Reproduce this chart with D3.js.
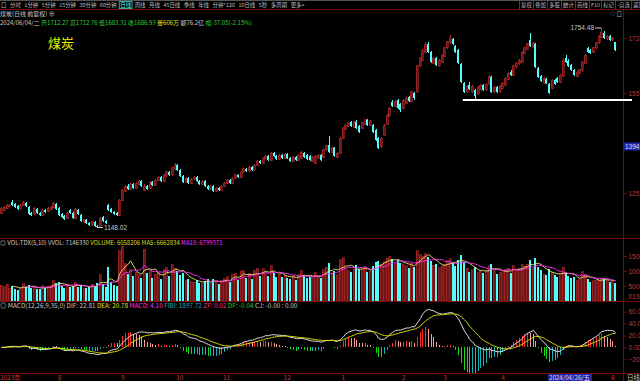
<!DOCTYPE html>
<html>
<head>
<meta charset="utf-8">
<script src="https://cdn.jsdelivr.net/npm/d3@7"></script>
<style>
  html, body { margin: 0; padding: 0; background: #000; overflow: hidden; }
  svg { display: block; font-family: "Liberation Sans", "Noto Sans CJK SC", sans-serif; }
</style>
</head>
<body>
<div id="chart"></div>
<script>
// daily bars, 2023-07-03 .. 2024-06-04 (one row per month)
const openP = [
  1192,1201,1207,1213,1225,1219,1213,1207,1216,1222,1210,1192,1189,1204,1192,1186,1201,1198,1204,1210,1219,
  1207,1189,1183,1177,1201,1192,1177,1201,1186,1165,1171,1162,1156,1165,1153,1150,1180,1168,1216,1204,1195,1192,1186,
  1231,1259,1274,1265,1280,1268,1280,1289,1262,1274,1268,1286,1277,1292,1301,1289,1305,1317,1308,1326,
  1338,1323,1304,1286,1298,1283,1295,1301,1289,1280,1289,1274,1265,1274,1259,1268,1262,
  1274,1283,1292,1283,1298,1308,1301,1317,1326,1320,1332,1323,1338,1350,1344,1359,1365,1353,1374,1365,1356,1368,
  1359,1371,1359,1350,1362,1353,1359,1374,1368,1365,1350,1344,1359,1368,1362,1384,1399,1377,1390,1362,1374,
  1420,1447,1456,1469,1453,1469,1456,1450,1462,1475,1459,1459,1444,1420,1393,1429,1462,1487,1529,1517,1535,1523,
  1511,1526,1544,1532,1557,1560,1639,1657,1681,1706,1681,1648,1663,1639,1651,
  1669,1694,1709,1721,1700,1687,1645,1587,1560,1581,1560,1566,1554,1569,1581,1566,1584,1605,1560,1575,1560,
  1572,1581,1599,1620,1611,1636,1645,1651,1678,1690,1718,1697,1706,1633,1608,1587,1599,1584,1572,1596,
  1602,1590,1608,1663,1654,1642,1627,1608,1617,1624,1648,1694,1687,1681,1694,1709,1727,1739,1721,1730,
  1718,1712.27
];
const highP = [
  1210,1214,1220,1221,1232,1222,1216,1219,1229,1226,1213,1195,1210,1208,1196,1204,1205,1210,1213,1226,1223,
  1210,1192,1186,1195,1205,1195,1207,1204,1189,1175,1174,1165,1168,1168,1156,1180,1184,1171,1220,1207,1198,1195,1234,
  1266,1278,1279,1284,1284,1287,1293,1292,1280,1277,1290,1290,1296,1305,1304,1311,1320,1321,1332,1343,
  1342,1326,1307,1301,1301,1299,1305,1304,1292,1292,1292,1277,1278,1277,1272,1271,1277,
  1287,1296,1295,1302,1311,1312,1320,1330,1330,1336,1336,1341,1354,1354,1363,1369,1368,1378,1379,1368,1372,1371,
  1375,1374,1362,1365,1365,1371,1380,1378,1371,1368,1365,1368,1371,1371,1387,1400,1425,1393,1393,1378,1423,
  1454,1463,1470,1472,1472,1475,1459,1469,1478,1478,1475,1462,1447,1423,1423,1462,1493,1514,1535,1535,1538,1526,
  1538,1545,1548,1563,1560,1642,1666,1690,1712,1712,1684,1666,1666,1660,1675,
  1697,1715,1733,1725,1703,1690,1648,1590,1582,1590,1581,1569,1578,1584,1584,1587,1612,1608,1578,1578,1581,
  1590,1605,1620,1626,1642,1651,1660,1684,1697,1709,1739,1712,1709,1636,1611,1605,1602,1587,1599,1599,
  1605,1614,1660,1672,1660,1645,1630,1623,1630,1654,1675,1697,1690,1697,1712,1733,1754.48,1745,1733,1733,
  1728,1712.76
];
const lowP = [
  1188,1198,1204,1210,1212,1206,1200,1204,1213,1210,1185,1182,1186,1189,1182,1183,1192,1195,1201,1207,1201,
  1183,1176,1170,1174,1189,1173,1174,1186,1165,1161,1158,1152,1153,1150,1148.02,1149,1165,1159,1198,1192,1186,1182,1184,
  1228,1255,1262,1262,1265,1265,1277,1271,1258,1262,1265,1274,1274,1289,1286,1286,1302,1304,1305,1322,
  1320,1301,1282,1283,1280,1280,1292,1286,1277,1277,1271,1261,1262,1255,1256,1258,1259,
  1271,1280,1280,1280,1295,1298,1298,1314,1317,1317,1320,1320,1335,1341,1341,1356,1350,1350,1362,1353,1353,1356,
  1356,1356,1347,1347,1350,1350,1356,1359,1353,1350,1347,1341,1356,1350,1359,1381,1374,1374,1362,1359,1371,
  1417,1444,1453,1453,1450,1447,1435,1447,1459,1456,1456,1435,1411,1386,1389,1426,1459,1484,1514,1514,1508,1500,
  1508,1523,1529,1529,1535,1557,1636,1654,1678,1678,1648,1645,1639,1636,1648,
  1666,1690,1706,1703,1678,1645,1587,1556,1557,1566,1557,1535,1551,1566,1563,1563,1581,1557,1557,1557,1557,
  1569,1578,1596,1608,1608,1633,1642,1648,1675,1687,1697,1694,1633,1602,1590,1584,1584,1553,1569,1581,
  1587,1587,1605,1648,1636,1624,1608,1605,1614,1620,1645,1678,1675,1678,1690,1706,1724,1721,1718,1715,
  1714,1683.31
];
const closeP = [
  1207,1210,1216,1216,1216,1210,1204,1216,1225,1213,1189,1186,1207,1192,1186,1201,1195,1207,1210,1222,1204,
  1186,1180,1174,1192,1192,1177,1204,1189,1168,1171,1162,1156,1165,1153,1150,1177,1168,1162,1201,1195,1189,1186,1231,
  1262,1274,1265,1280,1268,1283,1289,1274,1274,1265,1286,1277,1292,1301,1289,1308,1317,1308,1329,1338,
  1323,1304,1286,1298,1283,1295,1301,1289,1280,1289,1274,1265,1274,1259,1268,1262,1274,
  1283,1292,1283,1298,1308,1301,1317,1326,1320,1332,1323,1338,1350,1344,1359,1365,1353,1374,1365,1356,1368,1359,
  1371,1359,1350,1362,1353,1368,1377,1362,1356,1353,1362,1365,1368,1353,1384,1396,1377,1390,1365,1374,1420,
  1450,1459,1466,1456,1469,1450,1438,1466,1475,1459,1472,1438,1414,1390,1420,1459,1490,1511,1517,1532,1511,1505,
  1535,1541,1532,1560,1541,1639,1663,1687,1703,1681,1651,1663,1642,1657,1672,
  1694,1712,1724,1706,1681,1648,1590,1560,1578,1569,1578,1548,1575,1581,1566,1584,1608,1560,1575,1560,1578,
  1587,1602,1617,1611,1639,1648,1657,1681,1694,1706,1700,1709,1636,1605,1593,1602,1587,1557,1596,1584,
  1590,1611,1657,1651,1639,1627,1611,1620,1627,1651,1672,1681,1678,1694,1709,1730,1742,1724,1730,1718,
  1723.98,1686.93
];
// volume in thousands (axis unit X1000)
const volume = [
  5200,4800,5600,4300,4900,4100,3800,4500,5800,4700,5300,4200,4600,4000,3900,5100,4400,4800,5300,6800,5900,
  6200,5100,4300,5400,4600,4900,6300,4800,5200,4100,4500,4700,5600,5000,6100,8800,5700,4600,11200,6400,5300,5000,16800,
  18200,12500,9100,10400,8200,9600,8800,7600,17300,9400,10100,7800,8900,9500,7200,10600,11300,8400,12100,10800,
  9900,8700,9400,6800,7300,6500,6200,7100,6000,5800,6600,7200,5900,7500,6300,5600,6900,
  7400,8100,6500,8800,9200,7000,9900,10300,7700,9100,7300,10200,11000,8200,10800,9600,8500,11800,9300,8100,9000,7900,
  8600,7800,7300,8400,7100,8900,10100,8300,7600,7900,8000,9500,8200,7800,10400,11200,12600,9100,10000,8700,13800,
  14500,11300,10200,9800,10600,11900,10700,10400,11100,9600,9900,11800,12900,13500,12200,13100,14300,14800,13900,12400,13600,12800,
  12300,11700,10900,12600,11200,16800,15400,14900,15700,14600,13300,11900,12500,11100,11600,
  12200,13400,14100,12900,11800,13700,15200,13000,10900,9800,10400,11300,9600,9900,9200,10100,11800,12400,10300,9100,9500,
  9800,10600,10900,9300,11700,10200,10800,12100,11600,12300,13800,10900,14200,11500,10300,8900,8600,10700,9400,8800,
  7900,8700,11300,9500,8400,7600,7900,6800,7200,9800,8900,7400,6500,6700,7000,6880,7600,7200,6800,6400,
  6856,6058
];
// month starts (bar index) shown on the date axis (May is hidden under the cursor date)
const monthStart = [0, 21, 44, 64, 81, 103, 124, 146, 161, 182, 222];
const monthLabel = ["2023年", "8", "9", "10", "11", "12", "1", "2", "3", "4", "6"];
const priceTicks = [1724, 1557, 1253];
const volTicks = [15000, 10000, 5000];
const macdTicks = [60, 40, 20, 0, -20];
const cursorIndex = 199;
const cursorDate = "2024/04/26/五";
const cursorPrice = 1394.4;
const lineLevel = 1535.6;   // user drawn horizontal line
const lineFrom = 168;

const toolLeft = ["口", "分时", "1分钟", "5分钟", "15分钟", "30分钟", "60分钟", "日线", "周线", "月线", "45日线", "季线", "年线", "分钟*120", "10日线", "5秒", "多周期", "更多>"];
const toolRight = ["复权", "叠加", "多股", "统计", "画线", "F10", "标记", "-自选", "返回"];

const W = 640, H = 381;
const N = closeP.length;
const CYAN = "#54fcfc", GRID = "#7a0a0a", AXT = "#c03838", GRAY = "#c8c8c8";

const svg = d3.select("#chart").append("svg")
  .attr("width", W).attr("height", H)
  .style("background", "#000");

const x = d3.scaleBand().domain(d3.range(N)).range([0, 617]);
const left = (i) => Math.round(x(i));
const mid = (i) => left(i) + 1;

const y = d3.scaleLinear().domain([1253, 1724]).range([193, 38]);
const yv = d3.scaleLinear().domain([0, 15000]).range([301, 256]);
const ym = d3.scaleLinear().domain([-20, 60]).range([359.3, 311.7]);

// clip areas for the three panels
const defs = svg.append("defs");
const clip = (id, y0, h) => defs.append("clipPath").attr("id", id)
  .append("rect").attr("x", 0).attr("y", y0).attr("width", 623).attr("height", h);
clip("cp", 10, 228);
clip("cv", 239, 62);
clip("cm", 302, 71);

// frame lines
const frame = svg.append("g").attr("stroke", GRID).attr("shape-rendering", "crispEdges");
frame.append("line").attr("x1", 0).attr("x2", W).attr("y1", 0.5).attr("y2", 0.5).attr("stroke", "#555");
[9, 238, 301, 373].forEach((yy) =>
  frame.append("line").attr("x1", 0).attr("x2", W).attr("y1", yy + 0.5).attr("y2", yy + 0.5));
frame.append("line").attr("x1", 623.5).attr("x2", 623.5).attr("y1", 9).attr("y2", H);

// ---------- toolbar ----------
const tb = svg.append("g").attr("font-size", 5.4).attr("fill", "#bbb")
  .style("font-family", "'Noto Sans CJK SC', sans-serif");
let tx = 1;
toolLeft.forEach((t) => {
  const el = tb.append("text").attr("x", tx).attr("y", 6.8).text(t)
    .attr("fill", t === "日线" ? "#5ff" : "#bbb");
  const w = el.node().getComputedTextLength();
  if (t === "日线") {
    tb.insert("rect", "text").attr("x", tx - 1).attr("y", 1.5).attr("width", w + 2).attr("height", 7)
      .attr("fill", "none").attr("stroke", "#3aa");
  }
  tx += w + 3.6;
});
let rx = 521;
toolRight.forEach((t) => {
  tb.append("line").attr("x1", rx - 1.5).attr("x2", rx - 1.5).attr("y1", 1).attr("y2", 9)
    .attr("stroke", "#444").attr("shape-rendering", "crispEdges");
  const el = tb.append("text").attr("x", rx).attr("y", 6.8).text(t);
  rx += el.node().getComputedTextLength() + 3.2;
});
tb.append("text").attr("x", 610).attr("y", 15.5).text("◇ 口").attr("fill", "#aaa");

// ---------- header texts ----------
const hdr = svg.append("g").attr("font-size", 6).style("font-family", "'Noto Sans CJK SC', sans-serif");
hdr.append("text").attr("x", 0).attr("y", 16).attr("fill", GRAY).text("煤炭(日线 前复权) ⊕");
const line3 = hdr.append("text").attr("x", 0).attr("y", 24.5);
[
  ["2024/06/04/二", GRAY], ["开1712.27", "#2fd02f"], ["高1712.76", "#2fd02f"], ["低1683.31", "#2fd02f"],
  ["收1686.93", "#2fd02f"], ["量606万", "#e0e020"], ["额76.2亿", GRAY], ["幅-37.05(-2.15%)", "#2fd02f"],
].forEach(([t, c]) => line3.append("tspan").attr("fill", c).text(t + " "));

svg.append("text").attr("x", 48).attr("y", 48).attr("font-size", 13)
  .style("font-family", "'Noto Sans CJK SC', sans-serif").attr("fill", "#f0f000").text("煤炭");

const vh = hdr.append("text").attr("x", 0).attr("y", 245);
[["◎ VOL-TDX(5,10) VVOL: 7146330", GRAY], ["VOLUME: 6058206", "#d8d820"], ["MA5: 6662834", "#d8d820"], ["MA10: 6799371", "#ff30ff"]]
  .forEach(([t, c]) => vh.append("tspan").attr("fill", c).text(t + " "));
const mh = hdr.append("text").attr("x", 0).attr("y", 308).attr("font-size", 6.4);
[["◎ MACD(12,26,9,35,0) DIF: 22.81", GRAY], ["DEA: 20.78", "#e0e020"], ["MACD: 4.10", "#ff30ff"], ["FIBI: 1897.72", "#20a8a8"],
 ["ZF: 0.02", "#ff3090"], ["DF: -0.04", "#20d020"], ["CJ: -0.00 : 0.00", GRAY]]
  .forEach(([t, c]) => mh.append("tspan").attr("fill", c).text(t + " "));

// ---------- candles ----------
const up = (i) => closeP[i] >= openP[i];
const pc = svg.append("g").attr("clip-path", "url(#cp)").attr("shape-rendering", "crispEdges");
const idx = d3.range(N);
pc.selectAll("line.wick").data(idx).join("line")
  .attr("x1", (i) => mid(i) + 0.5).attr("x2", (i) => mid(i) + 0.5)
  .attr("y1", (i) => y(highP[i])).attr("y2", (i) => y(lowP[i]))
  .attr("stroke", (i) => (up(i) ? "#b52a2a" : CYAN));
pc.selectAll("rect.body").data(idx).join("rect")
  .attr("x", (i) => left(i)).attr("width", 2)
  .attr("y", (i) => y(Math.max(openP[i], closeP[i])))
  .attr("height", (i) => Math.max(1, Math.abs(y(openP[i]) - y(closeP[i]))))
  .attr("fill", (i) => (up(i) ? "#6e1414" : CYAN))
  .attr("stroke", (i) => (up(i) ? "#b52a2a" : "none"))
  .attr("stroke-width", 0.6);

// high / low marks
const iHi = d3.maxIndex(highP), iLo = d3.minIndex(lowP);
const ann = svg.append("g").attr("font-size", 6.5).attr("fill", GRAY);
ann.append("path").attr("d", `M${mid(iHi) - 6},${y(highP[iHi])}H${mid(iHi) + 0.5}`).attr("stroke", "#ccc");
ann.append("text").attr("x", mid(iHi) - 7).attr("y", y(highP[iHi]) + 2.5).attr("text-anchor", "end")
  .text(d3.format(".2f")(highP[iHi]));
ann.append("path").attr("d", `M${mid(iLo)},${y(lowP[iLo])}H${mid(iLo) + 6}`).attr("stroke", "#ccc");
ann.append("text").attr("x", mid(iLo) + 7).attr("y", y(lowP[iLo]) + 2.5).text(d3.format(".2f")(lowP[iLo]));

// drawn white line
svg.append("line").attr("x1", x(lineFrom)).attr("x2", 632)
  .attr("y1", y(lineLevel)).attr("y2", y(lineLevel))
  .attr("stroke", "#fff").attr("stroke-width", 2);

// ---------- volume ----------
const pv = svg.append("g").attr("clip-path", "url(#cv)").attr("shape-rendering", "crispEdges");
pv.selectAll("rect").data(idx).join("rect")
  .attr("x", (i) => left(i)).attr("width", 2)
  .attr("y", (i) => yv(volume[i])).attr("height", (i) => yv(0) - yv(volume[i]))
  .attr("fill", (i) => (up(i) ? "#6e1414" : CYAN))
  .attr("stroke", (i) => (up(i) ? "#b52a2a" : "none"))
  .attr("stroke-width", 0.6);
const ma = (arr, n) => arr.map((v, i) => (i < n - 1 ? null : d3.mean(arr.slice(i - n + 1, i + 1))));
const ma5 = ma(volume, 5), ma10 = ma(volume, 10);
const vline = (arr) => d3.line().defined((d) => d !== null).x((d, i) => mid(i) + 0.5).y((d) => yv(d))(arr);
const pvl = svg.append("g").attr("clip-path", "url(#cv)").attr("fill", "none").attr("stroke-width", 0.9);
pvl.append("path").attr("d", vline(ma5)).attr("stroke", "#e8e870");
pvl.append("path").attr("d", vline(ma10)).attr("stroke", "#ff30ff");

// ---------- MACD ----------
const ema = (arr, n) => {
  const k = 2 / (n + 1), out = [];
  arr.forEach((v, i) => out.push(i === 0 ? v : out[i - 1] + k * (v - out[i - 1])));
  return out;
};
const e12 = ema(closeP, 12), e26 = ema(closeP, 26);
const dif = e12.map((v, i) => v - e26[i]);
const dea = ema(dif, 9);
const macd = dif.map((v, i) => 2 * (v - dea[i]));
const histColor = (i) => {
  const v = macd[i], p = i > 0 ? macd[i - 1] : 0;
  if (v >= 0) return v >= p ? "#ff2a2a" : "#ff9a9a";
  return v <= p ? "#10e010" : "#14b4b4";
};
const pm = svg.append("g").attr("clip-path", "url(#cm)");
pm.selectAll("line").data(idx).join("line")
  .attr("x1", (i) => mid(i) + 0.5).attr("x2", (i) => mid(i) + 0.5)
  .attr("y1", ym(0)).attr("y2", (i) => ym(macd[i]))
  .attr("stroke", histColor).attr("shape-rendering", "crispEdges");
const mline = d3.line().x((d, i) => mid(i) + 0.5).y((d) => ym(d));
pm.append("path").attr("d", mline(dif)).attr("fill", "none").attr("stroke", "#f4f4f4").attr("stroke-width", 0.9);
pm.append("path").attr("d", mline(dea)).attr("fill", "none").attr("stroke", "#e8e800").attr("stroke-width", 0.9);

// ---------- right axes ----------
const styleAxis = (g) => {
  g.select(".domain").remove();
  g.selectAll(".tick line").attr("stroke", GRID);
  g.selectAll(".tick text").attr("fill", AXT).attr("font-size", 6.5).attr("x", 5)
    .style("font-family", "'Liberation Sans', sans-serif");
};
svg.append("g").attr("transform", "translate(623.5,0)")
  .call(d3.axisRight(y).tickValues(priceTicks).tickSize(3).tickFormat(d3.format(".2f"))).call(styleAxis);
svg.append("g").attr("transform", "translate(623.5,0)")
  .call(d3.axisRight(yv).tickValues(volTicks).tickSize(3).tickFormat(d3.format("d"))).call(styleAxis);
svg.append("text").attr("x", 628).attr("y", 299).attr("font-size", 6.5).attr("fill", AXT).text("X1000");
svg.append("g").attr("transform", "translate(623.5,0)")
  .call(d3.axisRight(ym).tickValues(macdTicks).tickSize(3).tickFormat(d3.format(".2f"))).call(styleAxis);

// cursor price box
svg.append("rect").attr("x", 624).attr("y", y(cursorPrice) - 4).attr("width", 16).attr("height", 8).attr("fill", "#2424a8");
svg.append("text").attr("x", 625).attr("y", y(cursorPrice) + 2.5).attr("font-size", 6.5).attr("fill", "#ddd").text(cursorPrice);

// ---------- date axis ----------
const dax = svg.append("g").attr("transform", "translate(0,373)")
  .call(d3.axisBottom(x).tickValues(monthStart).tickSize(0).tickFormat((d) => monthLabel[monthStart.indexOf(d)]));
dax.select(".domain").remove();
dax.selectAll(".tick text").attr("fill", AXT).attr("font-size", 6.5).attr("text-anchor", "start")
  .attr("x", -1.5).attr("y", 2).attr("dy", "0.71em")
  .style("font-family", "'Noto Sans CJK SC', sans-serif");
svg.append("rect").attr("x", left(cursorIndex)).attr("y", 374).attr("width", 44).attr("height", 7).attr("fill", "#2424a8");
svg.append("text").attr("x", left(cursorIndex) + 1).attr("y", 380).attr("font-size", 6.2).attr("fill", "#ddd")
  .style("font-family", "'Noto Sans CJK SC', sans-serif").text(cursorDate);
svg.append("text").attr("x", 627).attr("y", 380).attr("font-size", 6.5).attr("fill", GRAY)
  .style("font-family", "'Noto Sans CJK SC', sans-serif").text("日线");
</script>
</body>
</html>
